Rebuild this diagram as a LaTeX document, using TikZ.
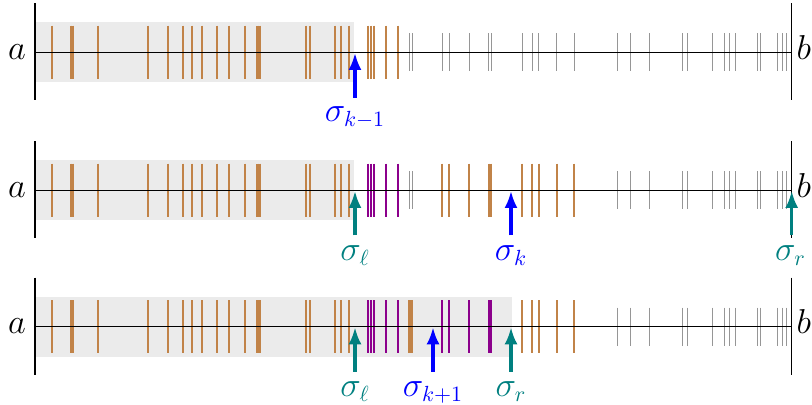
\documentclass[tikz,border=0pt]{standalone}
\usetikzlibrary{arrows.meta}

\definecolor{tickorange}{RGB}{193,131,72}
\definecolor{tickpurple}{RGB}{140,0,140}
\definecolor{tickgrey}{RGB}{150,150,150}
\definecolor{boxgrey}{RGB}{235,235,235}
\definecolor{ptrblue}{RGB}{0,0,255}
\definecolor{ptrteal}{RGB}{0,128,128}

\tikzset{
  axisline/.style={line width=0.65pt, black},
  endbar/.style={line width=0.6pt, black},
  hottick/.style={line width=1.1pt},
  coldtick/.style={line width=0.5pt, tickgrey},
  ptr/.style={line width=1.6pt, -{Latex[length=8.5pt,width=6.5pt]}},
  ptrlabel/.style={font=\fontsize{16}{19}\selectfont, inner sep=0pt, anchor=base},
  endlabel/.style={font=\fontsize{16}{19}\selectfont, inner sep=0pt, anchor=base},
}

% sample positions along [a,b], grouped by the runs that change colour
\def\leftpts{52,71,73,98,148.3,168.3,183.3,192,202.3,216.7,229,244.7,257.5,259.5,306,310,335.3,340.7,349}
\def\midpts{368.3,371,374.3,386.3,398.3}
\def\gappts{409.4,412}
\def\rightpts{442.3,449,469.3,488.8,491.2}
\def\farpts{522.3,532,538.7,556.7,574.3}
\def\tailpts{617.7,630.7,649.3,682,687.3,712.3,724,729.3,735.3,757.6,760.4,777.3,782,786}

% #1 = axis height, #2 = list, #3 = colour
\newcommand\hotticks[3]{%
  \foreach \t in #2 {\draw[hottick, #3] (\t, #1-26.7) -- (\t, #1+26.7);}}
\newcommand\coldticks[2]{%
  \foreach \t in #2 {\draw[coldtick] (\t, #1-19) -- (\t, #1+19);}}
% axis with end bars and end labels; #1 = axis height, #2 = name prefix
\newcommand\axisrow[2]{%
  \coordinate (#2a) at (35, #1);
  \coordinate (#2b) at (791.7, #1);
  \draw[axisline] (#2a) -- (#2b);
  \draw[endbar] (35, #1-49) -- (35, #1+48);
  \draw[endbar] (791.7, #1-49) -- (791.7, #1+48);
  \node[endlabel] (#2la) at (17, #1+7) {$a$};
  \node[endlabel, anchor=base east] (#2lb) at (811.5, #1+7) {$b$};
}

\begin{document}
\begin{tikzpicture}[x=0.5pt, y=-0.5pt]
  \useasboundingbox (0,0) rectangle (812,405);

  % ---------- row 1 ----------
  \def\ya{52.3}
  \fill[boxgrey] (36, \ya-30) rectangle (354.3, \ya+30);
  \hotticks{\ya}{\leftpts}{tickorange}
  \hotticks{\ya}{\midpts}{tickorange}
  \coldticks{\ya}{\gappts}
  \coldticks{\ya}{\rightpts}
  \coldticks{\ya}{\farpts}
  \coldticks{\ya}{\tailpts}
  \axisrow{\ya}{r1}
  \coordinate (r1km1) at (355, \ya+45.5);
  \coordinate (r1km1tip) at (355, \ya+0.6);
  \draw[ptr, ptrblue] (r1km1) -- (r1km1tip);
  \node[ptrlabel, ptrblue] (r1km1l) at (355, 121.7) {$\sigma_{k-1}$};

  % ---------- row 2 ----------
  \def\yb{190.3}
  \fill[boxgrey] (36, \yb-30) rectangle (354.3, \yb+30);
  \hotticks{\yb}{\leftpts}{tickorange}
  \hotticks{\yb}{\midpts}{tickpurple}
  \coldticks{\yb}{\gappts}
  \hotticks{\yb}{\rightpts}{tickorange}
  \hotticks{\yb}{\farpts}{tickorange}
  \coldticks{\yb}{\tailpts}
  \axisrow{\yb}{r2}
  \coordinate (r2l) at (355, \yb+45);
  \coordinate (r2ltip) at (355, \yb+0.6);
  \coordinate (r2k) at (511, \yb+45);
  \coordinate (r2ktip) at (511, \yb+0.6);
  \coordinate (r2r) at (791.7, \yb+45);
  \coordinate (r2rtip) at (791.7, \yb+0.6);
  \draw[ptr, ptrteal] (r2l) -- (r2ltip);
  \draw[ptr, ptrblue] (r2k) -- (r2ktip);
  \draw[ptr, ptrteal] (r2r) -- (r2rtip);
  \node[ptrlabel, ptrteal] (r2ll) at (355, 260.7) {$\sigma_\ell$};
  \node[ptrlabel, ptrblue] (r2kl) at (511, 260.7) {$\sigma_k$};
  \node[ptrlabel, ptrteal] (r2rl) at (790.5, 260.7) {$\sigma_r$};

  % ---------- row 3 ----------
  \def\yc{326.7}
  \fill[boxgrey] (36, \yc-30) rectangle (511.7, \yc+30);
  \hotticks{\yc}{\leftpts}{tickorange}
  \hotticks{\yc}{\midpts}{tickpurple}
  \hotticks{\yc}{\gappts}{tickorange}
  \hotticks{\yc}{\rightpts}{tickpurple}
  \hotticks{\yc}{\farpts}{tickorange}
  \coldticks{\yc}{\tailpts}
  \axisrow{\yc}{r3}
  \coordinate (r3l) at (355, \yc+45);
  \coordinate (r3ltip) at (355, \yc+0.6);
  \coordinate (r3k) at (433, \yc+45);
  \coordinate (r3ktip) at (433, \yc+0.6);
  \coordinate (r3r) at (511, \yc+45);
  \coordinate (r3rtip) at (511, \yc+0.6);
  \draw[ptr, ptrteal] (r3l) -- (r3ltip);
  \draw[ptr, ptrblue] (r3k) -- (r3ktip);
  \draw[ptr, ptrteal] (r3r) -- (r3rtip);
  \node[ptrlabel, ptrteal] (r3ll) at (355, 396.5) {$\sigma_\ell$};
  \node[ptrlabel, ptrblue] (r3kl) at (433, 396.5) {$\sigma_{k+1}$};
  \node[ptrlabel, ptrteal] (r3rl) at (511, 396.5) {$\sigma_r$};
\end{tikzpicture}
\end{document}
